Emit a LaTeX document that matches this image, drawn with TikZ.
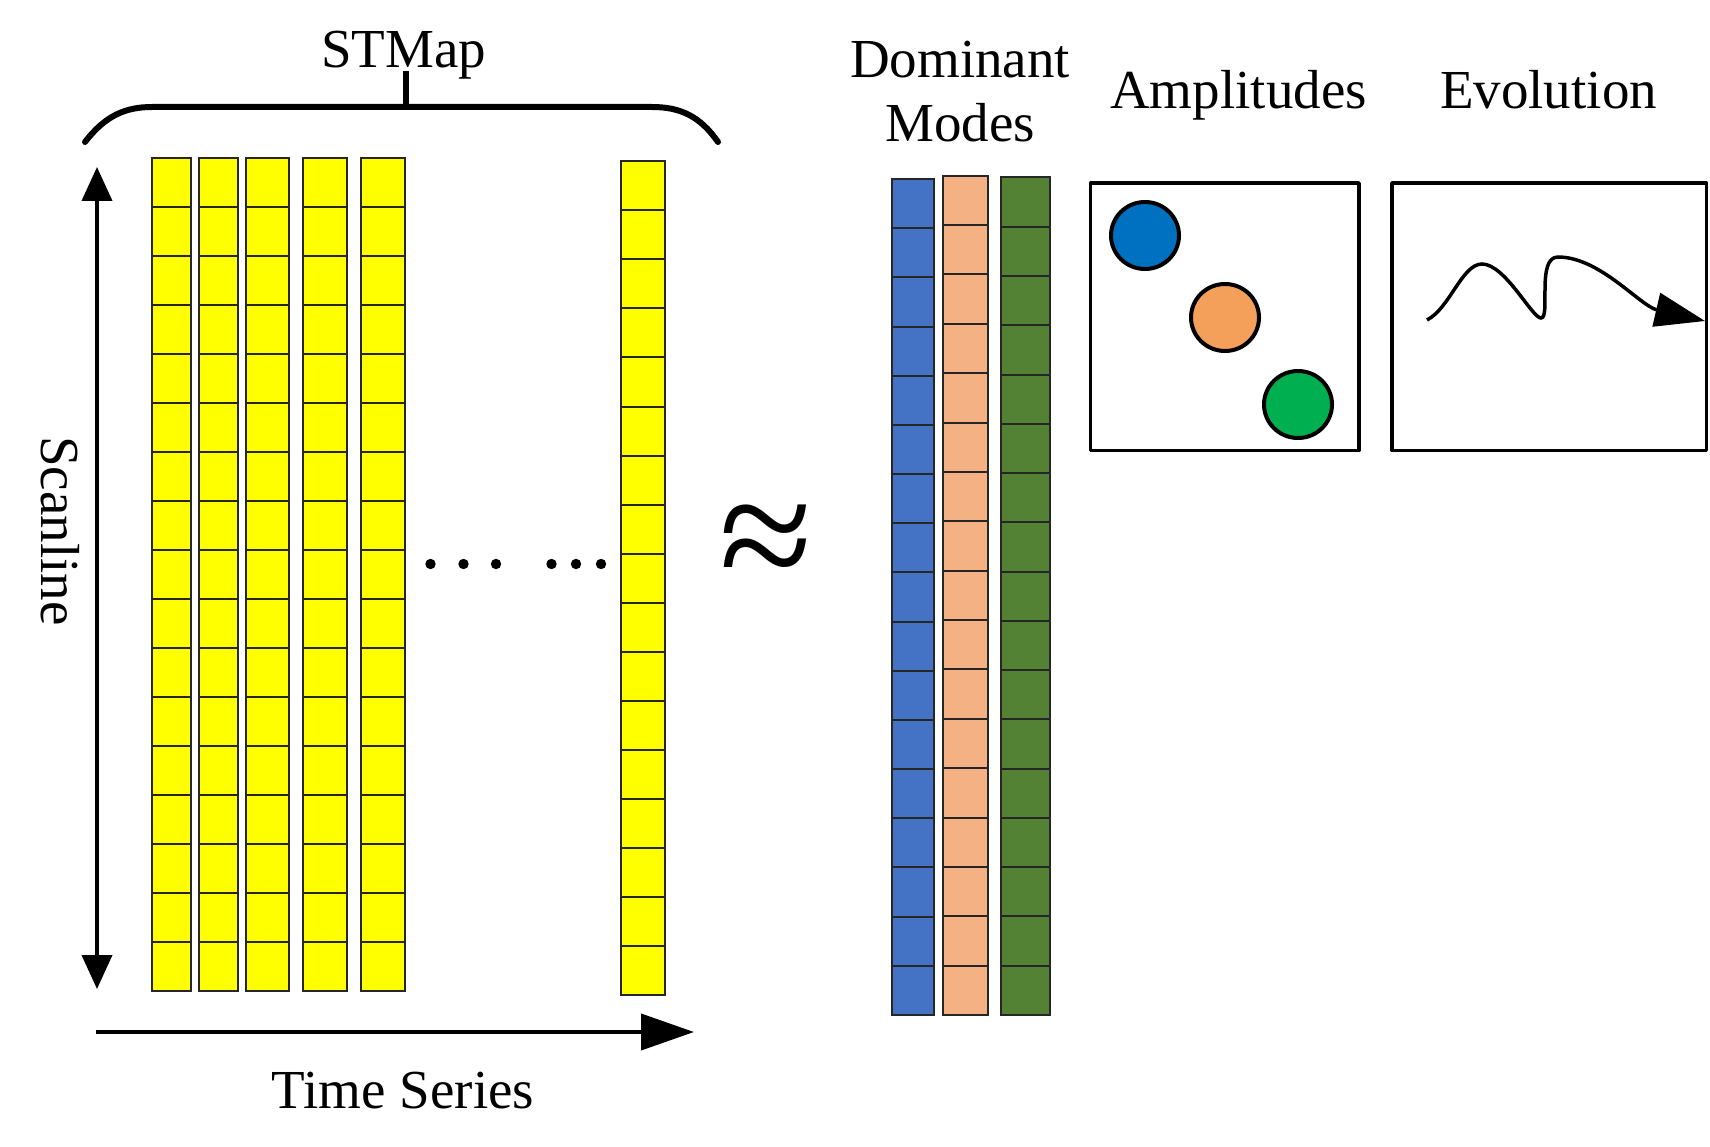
\documentclass[tikz,border=0pt]{standalone}
\usepackage{xcolor}
\usepackage{fontspec}
\setmainfont{Liberation Serif}
\usepackage{tikz}
\usetikzlibrary{arrows.meta}
\definecolor{map_yellow}{HTML}{FFFF00}
\definecolor{mode_blue}{HTML}{4472C4}
\definecolor{mode_orange}{HTML}{F4B183}
\definecolor{mode_green}{HTML}{548235}
\definecolor{amp_blue}{HTML}{0070C0}
\definecolor{amp_orange}{HTML}{F5A05A}
\definecolor{amp_green}{HTML}{00B050}
\tikzset{
  cell/.style = {draw=black!85, line width=2pt},
  label/.style = {inner sep=0pt, anchor=base, font=\fontsize{55}{60}\selectfont},
  panel/.style = {draw, line width=3.5pt, line join=round},
  blob/.style = {draw, line width=4pt}
}

\begin{document}
\begin{tikzpicture}[x=1pt, y=-1pt]
      \useasboundingbox (0,0) rectangle (1710,1147);

      % STMap columns
      \foreach \xl/\w/\yt in {151.5/39.5/158, 198.5/39.5/158, 245.5/43.5/158,
                              302.5/44.5/158, 360.5/44/158, 621/44/161.5}{
        \foreach \r in {0,...,16}{
          \draw[cell, fill=map_yellow] (\xl,\yt+49*\r) rectangle ++(\w,49);
        }
      }

      % dots between columns
      \foreach \xd in {430.5, 463.5, 496, 551.5, 576, 601}{
        \fill (\xd,564) circle (5.2);
      }

      % brace over the map
      \draw[line width=6pt, line cap=round]
        (85,142) .. controls (105,116) and (125,107) .. (152,107)
        -- (652,107) .. controls (680,107) and (700,116) .. (718,142);
      \coordinate (bracetip) at (405.5,71);
      \draw[line width=6pt] (405.5,107) -- (bracetip);
      \node[label] (stmap) at (403.5,67.5) {STMap};

      % axes
      \coordinate (scantop) at (97,167);
      \coordinate (scanbot) at (97,989);
      \draw[{Triangle[length=34pt,width=30pt]}-{Triangle[length=34pt,width=30pt]}, line width=4pt]
        (scantop) -- (scanbot);
      \node[inner sep=0pt, rotate=-90, font=\fontsize{55}{60}\selectfont] (scanline) at (60,531) {Scanline};

      \coordinate (timestart) at (96,1032);
      \coordinate (timeend) at (694,1032);
      \draw[-{Triangle[length=53pt,width=36pt]}, line width=4pt] (timestart) -- (timeend);
      \node[label] (timeseries) at (403,1108) {Time Series};

      % approximately equal
      \node[inner sep=0pt, font=\fontsize{170}{170}\selectfont] (approx) at (766,549) {≈};

      % dominant modes
      \foreach \xl/\w/\yt/\col in {892/41.5/179/mode_blue, 942.5/45.5/175.7/mode_orange,
                                   1001/48.5/177.5/mode_green}{
        \pgfmathsetmacro{\hc}{(1015-\yt)/17}
        \foreach \r in {0,...,16}{
          \draw[cell, fill=\col] (\xl,\yt+\hc*\r) rectangle ++(\w,\hc);
        }
      }
      \node[label] (dominant) at (960,77.5) {Dominant};
      \node[label] (modes) at (960,142) {Modes};

      % amplitudes
      \draw[panel] (1090.5,183) rectangle (1359,450.5);
      \node[label] (amplitudes) at (1238.5,109) {Amplitudes};
      \draw[blob, fill=amp_blue] (1145,235.5) ellipse (34 and 33.5);
      \draw[blob, fill=amp_orange] (1225,317.5) ellipse (34 and 33.5);
      \draw[blob, fill=amp_green] (1298,404.5) ellipse (34 and 33.5);

      % evolution
      \draw[panel] (1392,183) rectangle (1706.5,450.5);
      \node[label] (evolution) at (1548.5,109) {Evolution};
      \draw[-{Triangle[length=50pt,width=34pt]}, line width=3.5pt]
        (1427,320) .. controls (1450,308) and (1462,264) .. (1482,264)
        .. controls (1505,264) and (1532,318) .. (1541,318)
        .. controls (1551,318) and (1536,257) .. (1558,257)
        .. controls (1600,257) and (1640,306) .. (1705,321);
    \end{tikzpicture}
\end{document}
